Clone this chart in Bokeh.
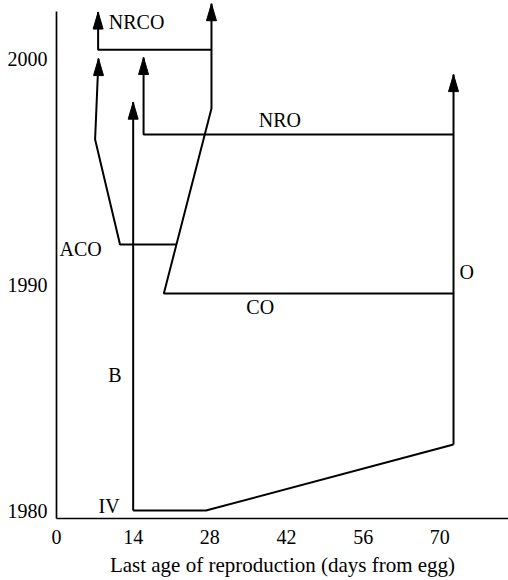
from bokeh.plotting import figure
from bokeh.models import Range1d, FixedTicker
from bokeh.core.properties import value
from bokeh.embed import file_html
from bokeh.resources import INLINE

# ---- data (days from egg, calendar year) ----
B_x = [14, 14]
B_y = [1980.0, 1998.08]

IV_x = [14, 27.3, 72.5]
IV_y = [1980.0, 1980.0, 1982.92]

O_x = [72.5, 72.5]
O_y = [1982.92, 1999.3]

CO_x = [72.5, 19.6, 28.3, 28.3]
CO_y = [1989.61, 1989.61, 1997.8, 2002.44]

ACO_x = [21.9, 11.6, 7.05, 7.67]
ACO_y = [1991.78, 1991.78, 1996.43, 2000.01]

NRO_x = [72.5, 15.9, 15.9]
NRO_y = [1996.65, 1996.65, 2000.06]

NRCO_x = [28.3, 7.6, 7.6]
NRCO_y = [2000.4, 2000.4, 2002.07]

label_text = ["NRCO", "NRO", "ACO", "CO", "O", "B", "IV"]
label_x = [9.55, 40.8, 4.4, 37.2, 74.9, 10.65, 9.6]
label_y = [2001.63, 1997.3, 1991.59, 1989.03, 1990.55, 1985.98, 1980.22]

x_ticks = [0, 14, 28, 42, 56, 70]
y_ticks = [1980, 1990, 2000]

# ---- layout / style ----
FONT = "Liberation Serif"
X_END = 82.54
Y_START, Y_END = 1979.646, 2002.582
FRAME_W, FRAME_H = 452, 518

p = figure(width=508, height=580,
           x_range=Range1d(0, X_END), y_range=Range1d(Y_START, Y_END),
           output_backend="svg", toolbar_location=None,
           min_border_left=56, min_border_right=0,
           min_border_top=0, min_border_bottom=62)
p.outline_line_color = None
p.xgrid.visible = False
p.ygrid.visible = False
p.background_fill_color = "white"
p.border_fill_color = "white"

for ax in (p.xaxis[0], p.yaxis[0]):
    ax.major_tick_line_color = None
    ax.minor_tick_line_color = None
    ax.major_tick_out = 0
    ax.major_tick_in = 0
    ax.minor_tick_out = 0
    ax.minor_tick_in = 0
    ax.axis_line_color = "black"
    ax.axis_line_width = 1.7
    ax.major_label_text_font = FONT
    ax.major_label_text_font_size = "20px"
    ax.major_label_text_color = "black"
    ax.axis_label_text_font = FONT
    ax.axis_label_text_font_size = "21px"
    ax.axis_label_text_font_style = "normal"
    ax.axis_label_text_color = "black"

p.xaxis.ticker = FixedTicker(ticks=x_ticks)
p.yaxis.ticker = FixedTicker(ticks=y_ticks)
p.xaxis.major_label_standoff = 11
p.yaxis.major_label_standoff = 9
p.xaxis.axis_label = "Last age of reproduction (days from egg)"
p.xaxis.axis_label_standoff = 6
p.yaxis.bounds = (Y_START, 2002.09)

LW = 2
paths = [(B_x, B_y), (IV_x, IV_y), (O_x, O_y), (CO_x, CO_y),
         (ACO_x, ACO_y), (NRO_x, NRO_y), (NRCO_x, NRCO_y)]
for xs, ys in paths:
    p.line(xs, ys, line_color="black", line_width=LW)

# arrowheads (pointing up) at the ends of the arrowed lineages
sx = FRAME_W / X_END
sy = FRAME_H / (Y_END - Y_START)
HEAD_LEN, HEAD_HALF_W = 17, 5
arrowed = [(B_x, B_y), (O_x, O_y), (CO_x, CO_y), (ACO_x, ACO_y),
           (NRO_x, NRO_y), (NRCO_x, NRCO_y)]
hx, hy = [], []
for xs, ys in arrowed:
    tx, ty = xs[-1], ys[-1]
    hw = HEAD_HALF_W / sx
    hl = HEAD_LEN / sy
    hx.append([tx - hw, tx, tx + hw])
    hy.append([ty - hl, ty, ty - hl])
p.patches(hx, hy, fill_color="black", line_color="black", line_width=1)

aligns = ["left", "center", "center", "center", "center", "center", "center"]
for t, x, y, a in zip(label_text, label_x, label_y, aligns):
    p.text(x=[x], y=[y], text=[t], text_font=value(FONT),
           text_font_size="20px", text_color="black",
           text_align=a, text_baseline="middle")

open("out.html", "w").write(file_html(p, INLINE))
